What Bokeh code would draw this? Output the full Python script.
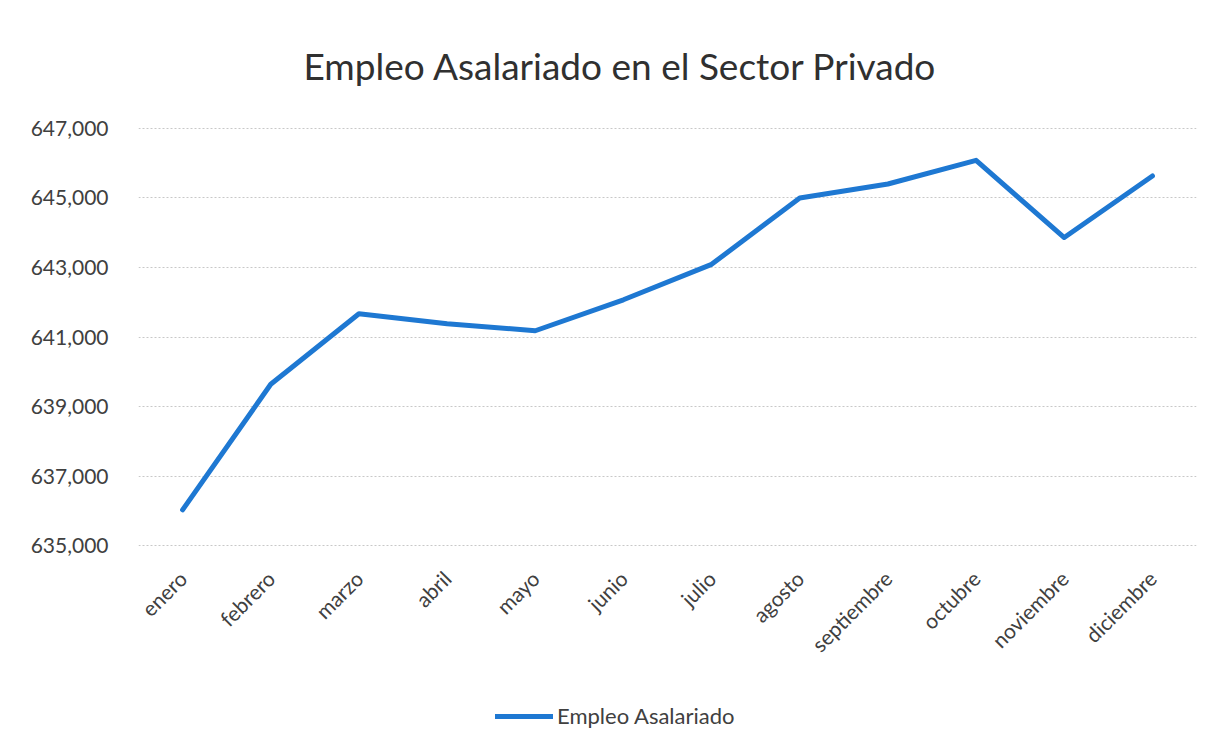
from bokeh.plotting import figure
from bokeh.models import (FixedTicker, NumeralTickFormatter, Legend, LegendItem, Title)
from bokeh.layouts import column
from bokeh.embed import file_html
from bokeh.resources import INLINE
import math

months = ["enero", "febrero", "marzo", "abril", "mayo", "junio", "julio",
          "agosto", "septiembre", "octubre", "noviembre", "diciembre"]
empleo = [636030, 639640, 641670, 641380, 641180, 642070, 643090,
          645000, 645400, 646080, 643860, 645630]
y_ticks = [635000, 637000, 639000, 641000, 643000, 645000, 647000]
title_text = "Empleo Asalariado en el Sector Privado"
series_name = "Empleo Asalariado"

FONT = "Lato"
TXT = "#404040"
LINE = "#1E78D2"

p = figure(x_range=months, y_range=(634975, 647025),
           width=1206, height=680, output_backend="svg", toolbar_location=None,
           min_border_left=138, min_border_right=10, min_border_top=125,
           min_border_bottom=134)

t = Title(text=title_text, align="left", text_font=FONT, text_font_size="37px",
          text_font_style="normal", text_color="#303030", offset=165, standoff=80)
p.add_layout(t, "above")

r = p.line(months, empleo, line_color=LINE, line_width=5, line_join="round",
           line_cap="round")

p.outline_line_color = None
p.xgrid.grid_line_color = None
p.ygrid.grid_line_color = "#c8c8c8"
p.ygrid.grid_line_dash = "2 2"
p.ygrid.grid_line_width = 1

p.yaxis.ticker = FixedTicker(ticks=y_ticks)
p.yaxis.formatter = NumeralTickFormatter(format="0,0")
p.yaxis.axis_line_color = None
p.yaxis.major_tick_line_color = None
p.yaxis.minor_tick_line_color = None
p.yaxis.major_label_text_font = FONT
p.yaxis.major_label_text_font_size = "21px"
p.yaxis.major_label_text_color = TXT
p.yaxis.major_label_standoff = 24

p.xaxis.axis_line_color = None
p.xaxis.major_tick_line_color = None
p.xaxis.minor_tick_line_color = None
p.xaxis.major_label_orientation = math.pi / 4
p.xaxis.major_label_text_font = FONT
p.xaxis.major_label_text_font_size = "21px"
p.xaxis.major_label_text_color = TXT
p.xaxis.major_label_standoff = 22

# legend strip below the chart
p2 = figure(x_range=months, y_range=(0, 1), width=1206, height=62,
            output_backend="svg", toolbar_location=None,
            min_border_left=0, min_border_right=0, min_border_top=0,
            min_border_bottom=0)
p2.axis.visible = False
p2.grid.grid_line_color = None
p2.outline_line_color = None
r2 = p2.line(months, empleo, line_color=LINE, line_width=5, line_cap="round")

legend = Legend(items=[LegendItem(label=series_name, renderers=[r2])],
                location=(357, 13), orientation="horizontal",
                border_line_color=None, background_fill_alpha=0,
                label_text_font=FONT, label_text_font_size="22px",
                label_text_color=TXT, glyph_width=58, label_standoff=4,
                padding=2, margin=0)
p2.add_layout(legend, "center")

open("out.html", "w").write(file_html(column(p, p2), INLINE))
